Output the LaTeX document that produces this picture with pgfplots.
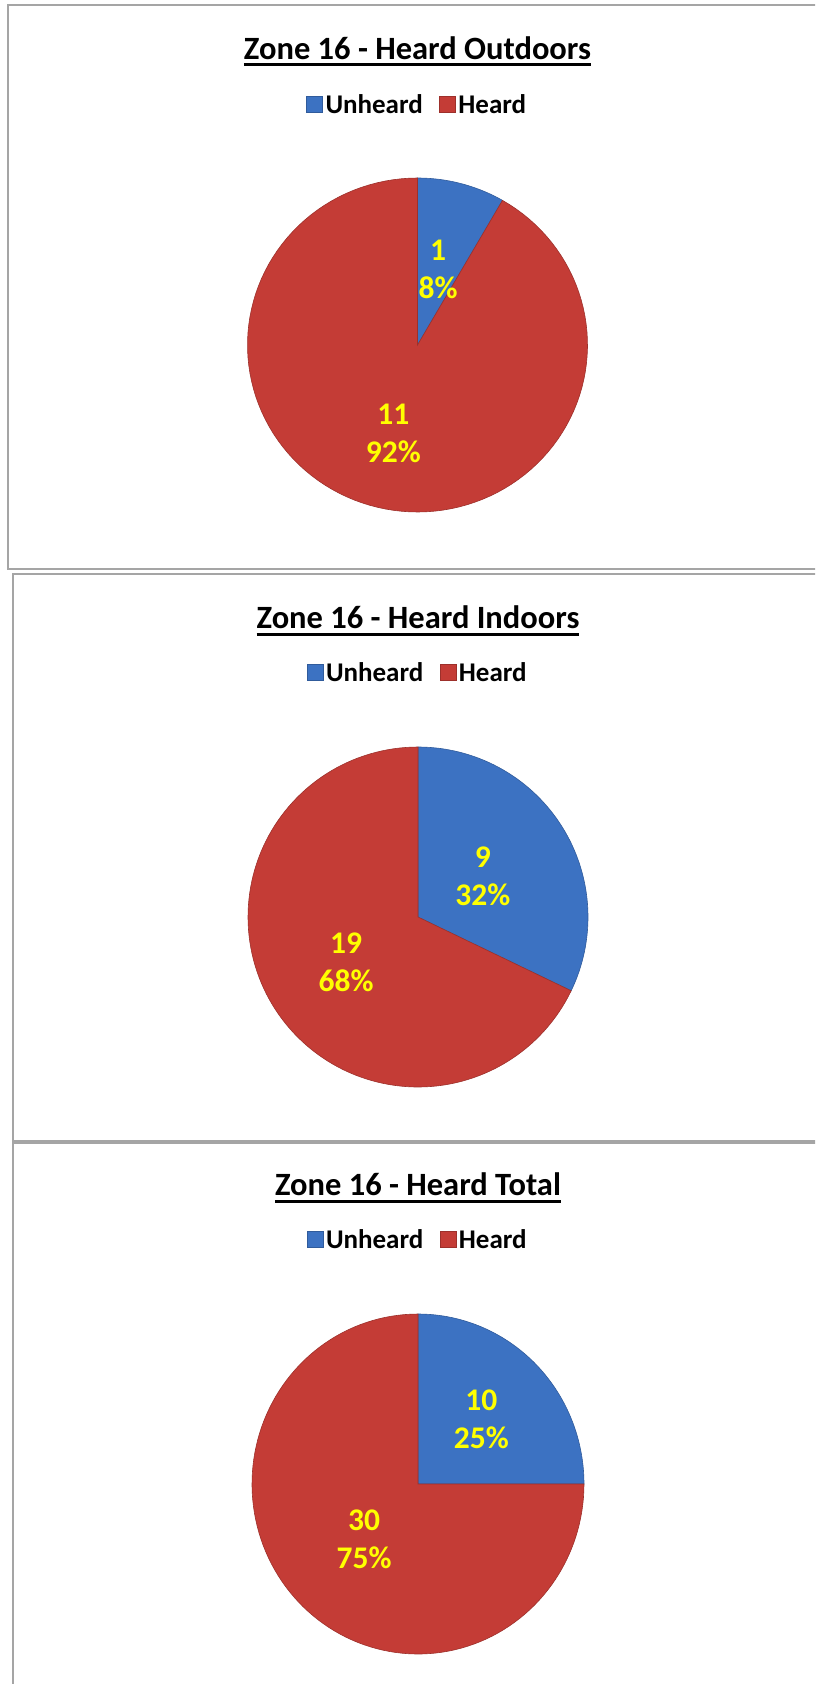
\documentclass[border=0pt]{standalone}
\usepackage{fontspec}
\setmainfont{Carlito}
\usepackage{pgfplots}
\usepackage{pgfplotstable}
\pgfplotsset{compat=1.18}

\definecolor{pieblue}{RGB}{60,114,194}
\definecolor{piered}{RGB}{196,60,54}
\definecolor{lblyellow}{RGB}{255,255,0}
\definecolor{framegray}{RGB}{165,165,165}

% value = count, dist = label distance as a fraction of the radius
\pgfplotstableread{
name value dist
Unheard 1 0.47
Heard 11 0.55
}\outdoors
\pgfplotstableread{
name value dist
Unheard 9 0.45
Heard 19 0.50
}\indoors
\pgfplotstableread{
name value dist
Unheard 10 0.54
Heard 30 0.46
}\total

\newcommand{\ultitle}[1]{\setbox0=\hbox{#1}\rlap{\rule[-7pt]{\wd0}{3pt}}\box0}

% angles and labels of one pie, clockwise from 12 o'clock
\newcommand{\piecompute}[1]{%
  \pgfplotstablegetelem{0}{value}\of#1\edef\va{\pgfplotsretval}%
  \pgfplotstablegetelem{1}{value}\of#1\edef\vb{\pgfplotsretval}%
  \pgfplotstablegetelem{0}{dist}\of#1\edef\da{\pgfplotsretval}%
  \pgfplotstablegetelem{1}{dist}\of#1\edef\db{\pgfplotsretval}%
  \pgfmathsetmacro\tot{\va+\vb}%
  \pgfmathsetmacro\aend{90-360*\va/\tot}%
  \pgfmathsetmacro\ma{(90+\aend)/2}%
  \pgfmathsetmacro\mb{(\aend-270)/2}%
  \pgfmathtruncatemacro\pa{round(100*\va/\tot)}%
  \pgfmathtruncatemacro\pb{round(100*\vb/\tot)}%
}

\pgfplotsset{
  pie/.style={
    hide axis, clip=false, scale only axis, anchor=center,
    xmin=-1, xmax=1, ymin=-1, ymax=1,
    title style={anchor=base, font=\bfseries\fontsize{32.5}{38}\selectfont},
    legend columns=2,
    legend style={draw=none, fill=none, anchor=center,
      font=\bfseries\fontsize{27}{32}\selectfont,
      nodes={inner sep=2.5pt},
      /tikz/every even column/.append style={column sep=14pt}},
    legend image code/.code={\fill[##1] (0pt,-7pt) rectangle (16pt,9pt);},
  },
  slice/.style={draw=#1!80!black, line width=0.6pt, fill=#1, samples=120, variable=\t},
}
\tikzset{lbl/.style={align=center, text=lblyellow, font=\bfseries\fontsize{31.5}{38}\selectfont}}

\newcommand{\drawpie}{%
  \addplot[slice=pieblue, domain=90:\aend] ({cos(t)},{sin(t)}) -- (axis cs:0,0) -- cycle;
  \addplot[slice=piered, domain=\aend:-270] ({cos(t)},{sin(t)}) -- (axis cs:0,0) -- cycle;
  \legend{Unheard, Heard}
  \node[lbl] at (axis cs:{\da*cos(\ma)},{\da*sin(\ma)}) {\va\\\pa\%};
  \node[lbl] at (axis cs:{\db*cos(\mb)},{\db*sin(\mb)}) {\vb\\\pb\%};
}

\begin{document}
\begin{tikzpicture}[x=1pt, y=1pt]
\useasboundingbox (0,0) rectangle (815,-1684);
\clip (0,0) rectangle (815,-1684);

\draw[framegray, line width=2pt] (8,-5) rectangle (830,-569);
\draw[framegray, line width=2pt] (13,-574) rectangle (830,-1141);
\draw[framegray, line width=2pt] (13,-1143) rectangle (830,-1700);

\piecompute{\outdoors}
\begin{axis}[pie, at={(417.5pt,-345pt)}, width=340pt, height=334pt,
  title={\ultitle{Zone 16 - Heard Outdoors}}, title style={at={(0.5,1.338)}},
  legend style={at={(0.5,1.218)}}]
\drawpie
\end{axis}

\piecompute{\indoors}
\begin{axis}[pie, at={(418pt,-917pt)}, width=340pt, height=340pt,
  title={\ultitle{Zone 16 - Heard Indoors}}, title style={at={(0.5,1.33)}},
  legend style={at={(0.5,1.217)}}]
\drawpie
\end{axis}

\piecompute{\total}
\begin{axis}[pie, at={(418pt,-1484pt)}, width=332pt, height=340pt,
  title={\ultitle{Zone 16 - Heard Total}}, title style={at={(0.5,1.33)}},
  legend style={at={(0.5,1.217)}}]
\drawpie
\end{axis}
\end{tikzpicture}
\end{document}
